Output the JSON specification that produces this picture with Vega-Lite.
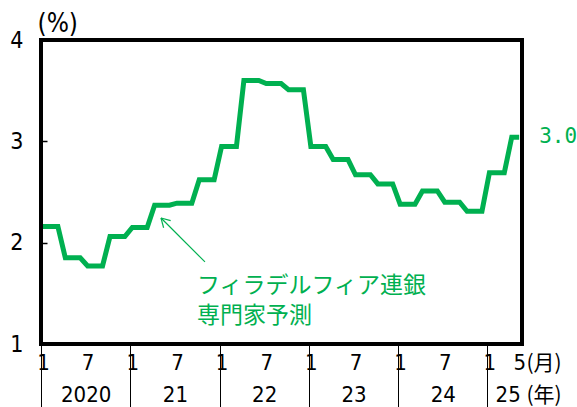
{
  "$schema": "https://vega.github.io/schema/vega-lite/v6.json",
  "width": 481,
  "height": 304,
  "autosize": {"type": "none"},
  "padding": {"left": 41, "top": 40, "right": 55, "bottom": 63},
  "background": "white",
  "config": {
    "view": {"stroke": "black", "strokeWidth": 4},
    "axis": {"grid": false, "domain": false, "labelFont": "DejaVu Sans Condensed", "titleFont": "Noto Sans CJK JP", "labelColor": "black", "titleColor": "black", "titleFontWeight": "normal"}
  },
  "datasets": {
    "s": [
      {"m": 0, "v": 2.16}, {"m": 1, "v": 2.16}, {"m": 2, "v": 2.16},
      {"m": 3, "v": 1.85}, {"m": 4, "v": 1.85}, {"m": 5, "v": 1.85},
      {"m": 6, "v": 1.77}, {"m": 7, "v": 1.77}, {"m": 8, "v": 1.77},
      {"m": 9, "v": 2.06}, {"m": 10, "v": 2.06}, {"m": 11, "v": 2.06},
      {"m": 12, "v": 2.15}, {"m": 13, "v": 2.15}, {"m": 14, "v": 2.15},
      {"m": 15, "v": 2.37}, {"m": 16, "v": 2.37}, {"m": 17, "v": 2.37},
      {"m": 18, "v": 2.39}, {"m": 19, "v": 2.39}, {"m": 20, "v": 2.39},
      {"m": 21, "v": 2.62}, {"m": 22, "v": 2.62}, {"m": 23, "v": 2.62},
      {"m": 24, "v": 2.95}, {"m": 25, "v": 2.95}, {"m": 26, "v": 2.95},
      {"m": 27, "v": 3.60}, {"m": 28, "v": 3.60}, {"m": 29, "v": 3.60},
      {"m": 30, "v": 3.57}, {"m": 31, "v": 3.57}, {"m": 32, "v": 3.57},
      {"m": 33, "v": 3.51}, {"m": 34, "v": 3.51}, {"m": 35, "v": 3.51},
      {"m": 36, "v": 2.95}, {"m": 37, "v": 2.95}, {"m": 38, "v": 2.95},
      {"m": 39, "v": 2.82}, {"m": 40, "v": 2.82}, {"m": 41, "v": 2.82},
      {"m": 42, "v": 2.67}, {"m": 43, "v": 2.67}, {"m": 44, "v": 2.67},
      {"m": 45, "v": 2.58}, {"m": 46, "v": 2.58}, {"m": 47, "v": 2.58},
      {"m": 48, "v": 2.38}, {"m": 49, "v": 2.38}, {"m": 50, "v": 2.38},
      {"m": 51, "v": 2.51}, {"m": 52, "v": 2.51}, {"m": 53, "v": 2.51},
      {"m": 54, "v": 2.40}, {"m": 55, "v": 2.40}, {"m": 56, "v": 2.40},
      {"m": 57, "v": 2.31}, {"m": 58, "v": 2.31}, {"m": 59, "v": 2.31},
      {"m": 60, "v": 2.69}, {"m": 61, "v": 2.69}, {"m": 62, "v": 2.69},
      {"m": 63, "v": 3.04}, {"m": 64, "v": 3.04}
    ],
    "arrow": [
      {"x": 15.86, "y": 2.243, "x2": 21.77, "y2": 1.81},
      {"x": 15.86, "y": 2.243, "x2": 17.16, "y2": 2.217},
      {"x": 15.86, "y": 2.243, "x2": 16.21, "y2": 2.147}
    ],
    "note": [
      {"x": 20.7, "y": 1.68, "t": "フィラデルフィア連銀\n専門家予測"}
    ]
  },
  "layer": [
    {
      "data": {"name": "s"},
      "mark": {"type": "line", "color": "#00B050", "strokeWidth": 5, "clip": false},
      "encoding": {
        "x": {"field": "m", "type": "quantitative",
          "scale": {"domain": [-0.27, 64.38], "nice": false, "zero": false},
          "axis": {"orient": "bottom", "values": [0, 6, 12, 18, 24, 30, 36, 42, 48, 54, 60, 64],
            "labelExpr": "datum.value == 64 ? '5' : (datum.value % 12 == 0 ? '1' : '7')",
            "ticks": false, "labelFontSize": 22, "labelPadding": 8, "labelOverlap": false, "labelFlush": false, "labelBound": false,
            "title": "(月)", "titleFontSize": 21, "titleX": 485, "titleY": 19, "titleAlign": "left", "titleBaseline": "middle", "titleAngle": 0}},
        "y": {"field": "v", "type": "quantitative",
          "scale": {"domain": [1, 4], "nice": false, "zero": false},
          "axis": {"values": [1, 2, 3, 4], "format": "d", "labelFontSize": 23, "tickSize": -6, "tickColor": "black", "tickWidth": 1.5, "labelPadding": 24,
            "title": "(%)", "titleFont": "DejaVu Sans Condensed", "titleFontSize": 26, "titleX": -4, "titleY": -17, "titleAngle": 0, "titleAlign": "left", "titleBaseline": "middle"}}
      }
    },
    {
      "data": {"name": "arrow"},
      "mark": {"type": "rule", "color": "#00B050", "strokeWidth": 1.2},
      "encoding": {
        "x": {"field": "x", "type": "quantitative",
          "scale": {"domain": [-0.27, 64.38], "nice": false, "zero": false},
          "axis": {"orient": "bottom", "values": [-0.27, 11.73, 23.73, 35.73, 47.73, 59.73], "labels": false, "ticks": true, "tickSize": 63, "tickColor": "black", "tickWidth": 1, "title": null}},
        "x2": {"field": "x2"},
        "y": {"field": "y", "type": "quantitative", "scale": {"domain": [1, 4], "nice": false, "zero": false}, "axis": null},
        "y2": {"field": "y2"}
      }
    },
    {
      "data": {"name": "note"},
      "mark": {"type": "text", "color": "#00B050", "font": "Noto Sans CJK JP", "fontSize": 23, "align": "left", "baseline": "top", "lineBreak": "\n", "lineHeight": 30},
      "encoding": {
        "x": {"field": "x", "type": "quantitative",
          "scale": {"domain": [-0.27, 64.38], "nice": false, "zero": false},
          "axis": {"orient": "bottom", "values": [5.73, 17.73, 29.73, 41.73, 53.73, 62.46],
            "labelExpr": "datum.value < 10 ? '2020' : datum.value < 20 ? '21' : datum.value < 35 ? '22' : datum.value < 45 ? '23' : datum.value < 58 ? '24' : '25'",
            "ticks": false, "labelFontSize": 22, "labelPadding": 40, "labelOverlap": false, "labelFlush": false, "labelBound": false,
            "title": "(年)", "titleFontSize": 21, "titleX": 485, "titleY": 51, "titleAlign": "left", "titleBaseline": "middle", "titleAngle": 0}},
        "y": {"field": "y", "type": "quantitative", "scale": {"domain": [1, 4], "nice": false, "zero": false}, "axis": null},
        "text": {"field": "t"}
      }
    },
    {
      "data": {"name": "s"},
      "transform": [{"filter": "datum.m == 64"}],
      "mark": {"type": "text", "color": "#00B050", "font": "DejaVu Sans Mono", "fontSize": 21, "align": "left", "baseline": "middle", "dx": 20},
      "encoding": {
        "x": {"field": "m", "type": "quantitative", "scale": {"domain": [-0.27, 64.38], "nice": false, "zero": false}, "axis": null},
        "y": {"field": "v", "type": "quantitative", "scale": {"domain": [1, 4], "nice": false, "zero": false}, "axis": null},
        "text": {"field": "v", "format": ".1f"}
      }
    }
  ],
  "resolve": {"axis": {"x": "independent", "y": "independent"}}
}
